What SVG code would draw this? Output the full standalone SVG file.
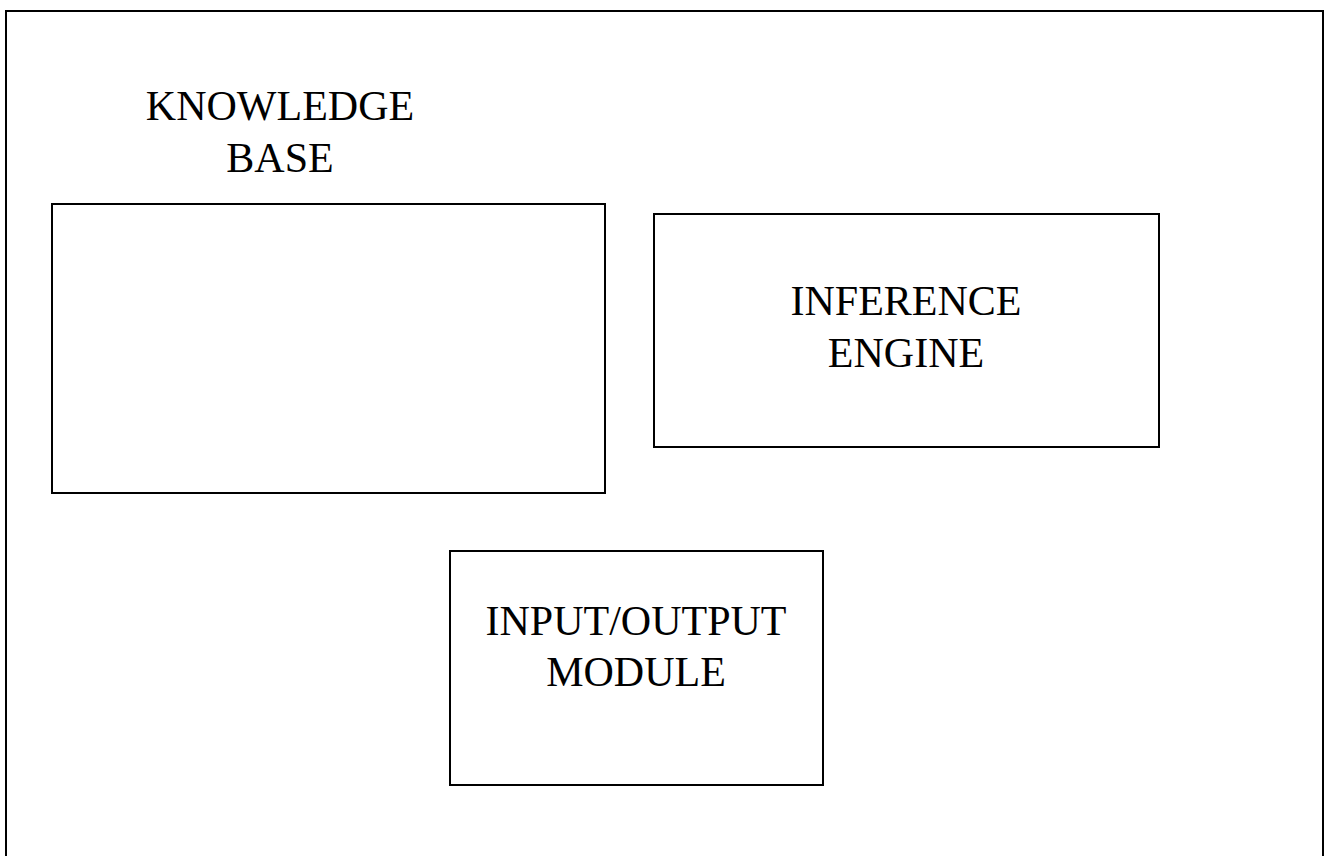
<svg xmlns="http://www.w3.org/2000/svg" width="1330" height="856" viewBox="0 0 1330 856">
  <style>
    .frame { fill: none; stroke: #000; stroke-width: 2; }
    .box { fill: #fff; stroke: #000; stroke-width: 2; }
    .label { font-family: "Liberation Serif", "Times New Roman", serif; font-size: 42px; fill: #000; text-anchor: middle; }
  </style>
  <rect width="1330" height="856" fill="#fff"/>
  <!-- outer frame -->
  <rect class="frame" x="6" y="11" width="1317" height="860"/>
  <g id="connectors"></g>
  <g id="knowledge-base">
    <text class="label" x="280" y="120">KNOWLEDGE</text>
    <text class="label" x="280" y="172">BASE</text>
    <rect class="box" x="52" y="204" width="553" height="289"/>
  </g>
  <g id="inference-engine">
    <rect class="box" x="654" y="214" width="505" height="233"/>
    <text class="label" x="906" y="315">INFERENCE</text>
    <text class="label" x="906" y="367">ENGINE</text>
  </g>
  <g id="io-module">
    <rect class="box" x="450" y="551" width="373" height="234"/>
    <text class="label" x="636" y="635">INPUT/OUTPUT</text>
    <text class="label" x="636" y="686">MODULE</text>
  </g>
</svg>
